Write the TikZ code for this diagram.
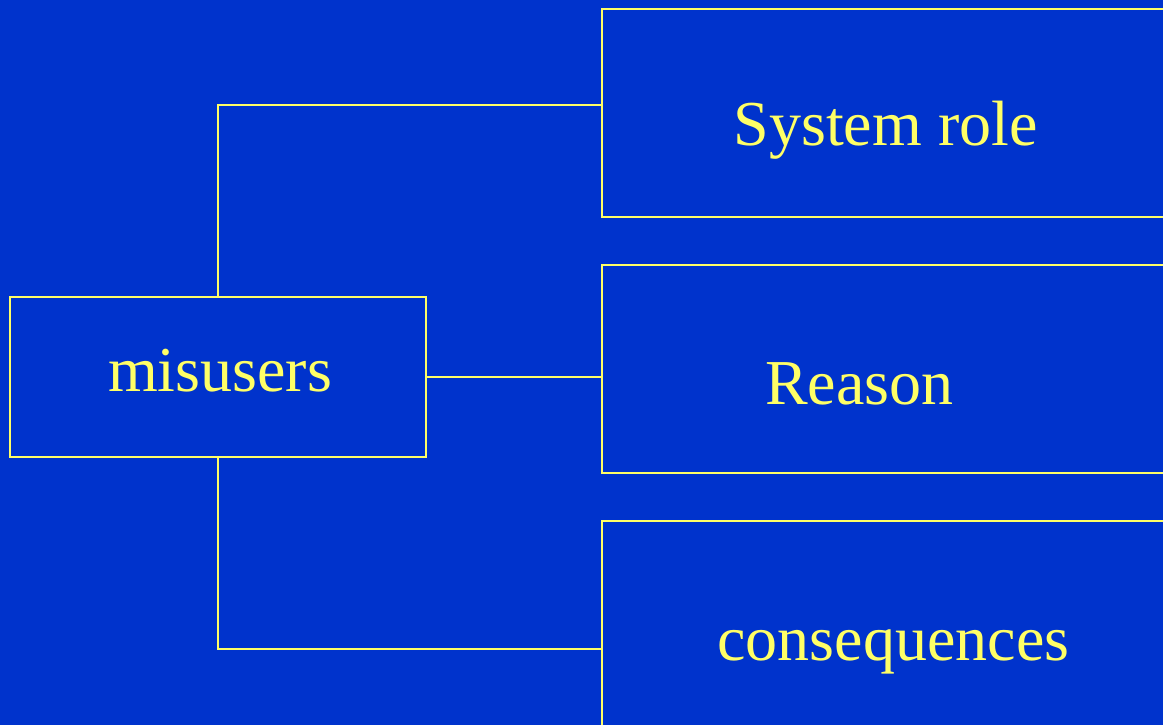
\documentclass[tikz,border=0pt]{standalone}
\usepackage{fontspec}
\setmainfont{Liberation Serif}
\definecolor{bg}{HTML}{0033CC}
\definecolor{fg}{HTML}{FFFF66}
\begin{document}
\begin{tikzpicture}[x=1pt,y=-1pt,
  box/.style={draw=fg, line width=2pt, rectangle, inner sep=0pt, outer sep=0pt},
  lbl/.style={text=fg, anchor=base, inner sep=0pt, font=\fontsize{64}{76}\selectfont},
  link/.style={draw=fg, line width=2pt}]
\fill[bg] (0,0) rectangle (1163,725);
\useasboundingbox (0,0) rectangle (1163,725);
\clip (0,0) rectangle (1163,725);
\node[box, minimum width=416pt, minimum height=160pt] (mis) at (218,377) {};
\node[box, minimum width=568pt, minimum height=208pt] (sr) at (886,113) {};
\node[box, minimum width=568pt, minimum height=208pt] (rs) at (886,369) {};
\node[box, minimum width=568pt, minimum height=208pt] (cq) at (886,625) {};
\node[lbl] (tmis) at (220,391) {misusers};
\node[lbl] (tsr) at (885.5,146) {System role};
\node[lbl] (trs) at (859.5,404) {Reason};
\node[lbl] (tcq) at (893.5,660) {consequences};
\draw[link] (mis.north) |- ([yshift=8pt]sr.west);
\draw[link] (mis.east) -- (mis.east -| rs.west);
\draw[link] (mis.south) |- ([yshift=-24pt]cq.west);
\end{tikzpicture}
\end{document}
